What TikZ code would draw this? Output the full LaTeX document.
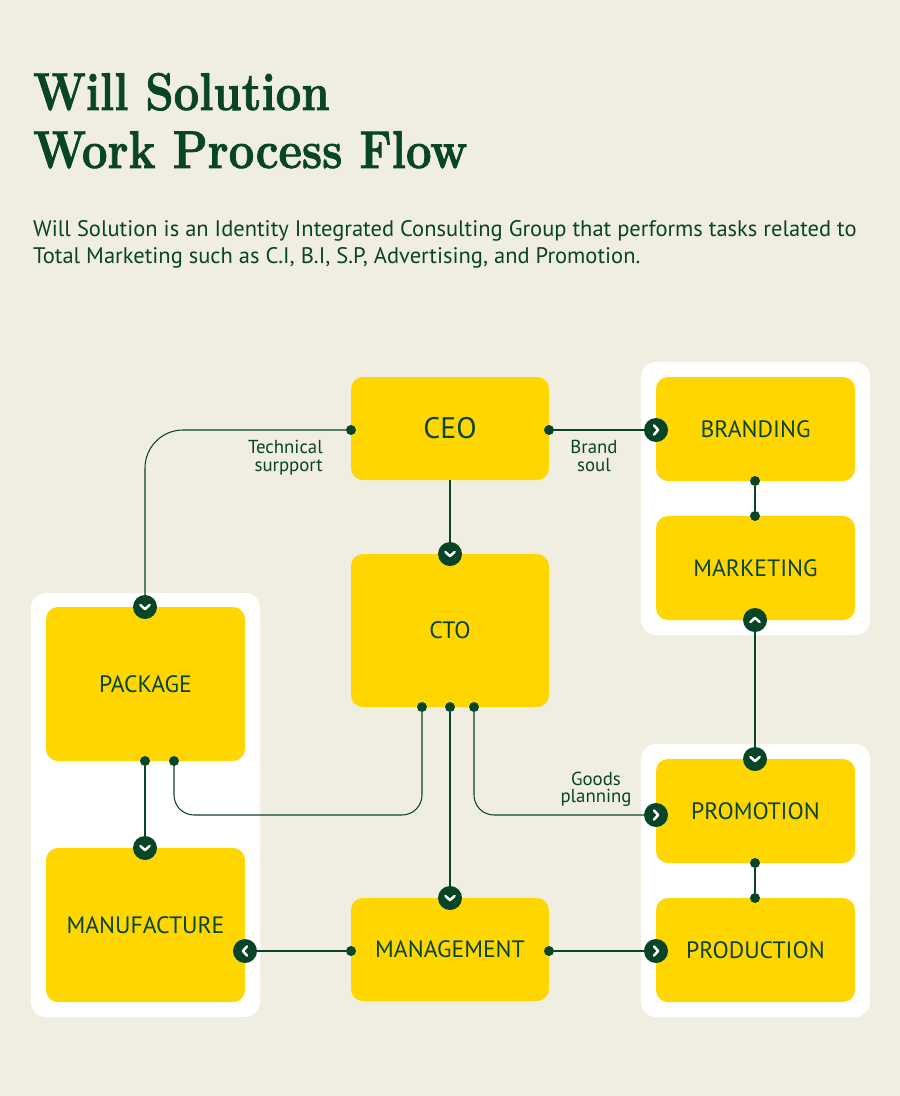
\documentclass[tikz,border=0pt]{standalone}
\usepackage{fontspec}
\newfontfamily\ptsans{PT Sans}
\newfontfamily\ttlfont[BoldFeatures={FakeBold=1.6}]{Latin Modern Roman}
\definecolor{bg}{RGB}{240,238,225}
\definecolor{ylw}{RGB}{255,214,0}
\definecolor{dkg}{RGB}{8,68,38}
\newcommand\chevnode[3]{%
  \node[chevc] (#1) at (#2) {};
  \draw[white, line width=2.5pt, line cap=round, line join=round, shift={(#1.center)}, rotate=#3]
    (-2pt,-4.6pt) -- (2.1pt,0pt) -- (-2pt,4.6pt);
}
\begin{document}
\begin{tikzpicture}[x=1pt,y=-1pt,
  box/.style={fill=ylw, rounded corners=12pt, minimum width=198pt, text=dkg,
    font=\ptsans\fontsize{23.7}{25}\selectfont, inner sep=0pt},
  panel/.style={fill=white, rounded corners=15pt},
  conn/.style={draw=dkg, line width=1.05pt},
  dotn/.style={circle, fill=dkg, minimum size=10pt, inner sep=0pt},
  chevc/.style={circle, fill=dkg, minimum size=24pt, inner sep=0pt},
  lbl/.style={text=dkg, font=\ptsans\fontsize{18.8}{19}\selectfont, inner sep=0pt},
  ttl/.style={text=dkg, font=\ttlfont\fontsize{53}{58}\selectfont\bfseries, inner sep=0pt, anchor=base west},
  body/.style={text=dkg, font=\ptsans\fontsize{22.5}{27}\selectfont, inner sep=0pt, anchor=base west},
]
\fill[bg] (0,0) rectangle (900,1096);
\useasboundingbox (0,0) rectangle (900,1096);

% title and intro
\node[ttl] (t1) at (33,110) {\scalebox{0.855}[1]{Will Solution}};
\node[ttl] (t2) at (33,168) {\scalebox{0.86}[1]{Work Process Flow}};
\node[body] (b1) at (33,236) {Will Solution is an Identity Integrated Consulting Group that performs tasks related to};
\node[body] (b2) at (33,263) {Total Marketing such as C.I, B.I, S.P, Advertising, and Promotion.};

% panels
\fill[panel] (31,593) rectangle (260,1017);
\fill[panel] (641,362) rectangle (870,635);
\fill[panel] (641,744) rectangle (870,1017);

% boxes
\node[box, minimum height=103pt, font=\ptsans\fontsize{29.7}{31}\selectfont] (ceo) at (450,428.5) {CEO};
\node[box, minimum height=153pt] (cto) at (450,630.5) {CTO};
\node[box, minimum height=103pt] (mgmt) at (450,949.5) {MANAGEMENT};
\node[box, minimum width=199pt, minimum height=154pt] (pkg) at (145.5,684) {PACKAGE};
\node[box, minimum width=199pt, minimum height=154pt] (manu) at (145.5,925) {MANUFACTURE};
\node[box, minimum width=199pt, minimum height=104pt] (brand) at (755.5,429) {BRANDING};
\node[box, minimum width=199pt, minimum height=104pt] (mkt) at (755.5,568) {MARKETING};
\node[box, minimum width=199pt, minimum height=104pt] (promo) at (755.5,811) {PROMOTION};
\node[box, minimum width=199pt, minimum height=104pt] (prod) at (755.5,950) {PRODUCTION};

% dots
\node[dotn] (ceoL) at (351,430) {};
\node[dotn] (ceoR) at (549,430) {};
\node[dotn] (brandB) at (755,481) {};
\node[dotn] (mktT) at (755,516) {};
\node[dotn] (promoB) at (755,863) {};
\node[dotn] (prodT) at (755,898) {};
\node[dotn] (ctoA) at (422,707) {};
\node[dotn] (ctoB) at (450,707) {};
\node[dotn] (ctoC) at (474,707) {};
\node[dotn] (pkgB) at (145,761) {};
\node[dotn] (pkgR) at (174,761) {};
\node[dotn] (mgmtL) at (351,951) {};
\node[dotn] (mgmtR) at (549,951) {};

% chevron circles
\chevnode{brandL}{656,430}{0}
\chevnode{ctoT}{450,554}{-90}
\chevnode{pkgT}{145,607}{-90}
\chevnode{mktB}{755,620}{90}
\chevnode{promoT}{755,759}{-90}
\chevnode{promoL}{656,815}{0}
\chevnode{prodL}{656,951}{0}
\chevnode{mgmtT}{450,898}{-90}
\chevnode{manuT}{145,848}{-90}
\chevnode{manuR}{245,951}{180}

\coordinate (bendL) at (300,815);

% connectors
\draw[conn, rounded corners=38pt] (ceoL) -| (pkgT);
\draw[conn] (ceoR) -- (brandL);
\draw[conn] (ceo.south) -- (ctoT);
\draw[conn] (brandB) -- (mktT);
\draw[conn] (mktB) -- (promoT);
\draw[conn] (promoB) -- (prodT);
\draw[conn, rounded corners=20pt] (ctoA) |- (bendL) -| (pkgR);
\draw[conn] (ctoB) -- (mgmtT);
\draw[conn, rounded corners=20pt] (ctoC) |- (promoL);
\draw[conn] (pkgB) -- (manuT);
\draw[conn] (mgmtL) -- (manuR);
\draw[conn] (mgmtR) -- (prodL);

% labels
\node[lbl, anchor=base east] (l1a) at (323,453) {Technical};
\node[lbl, anchor=base east] (l1b) at (323,471) {surpport};
\node[lbl, anchor=base] (l2a) at (594,453) {Brand};
\node[lbl, anchor=base] (l2b) at (594,471) {soul};
\node[lbl, anchor=base] (l3a) at (596,785) {Goods};
\node[lbl, anchor=base] (l3b) at (596,802) {planning};
\end{tikzpicture}
\end{document}
